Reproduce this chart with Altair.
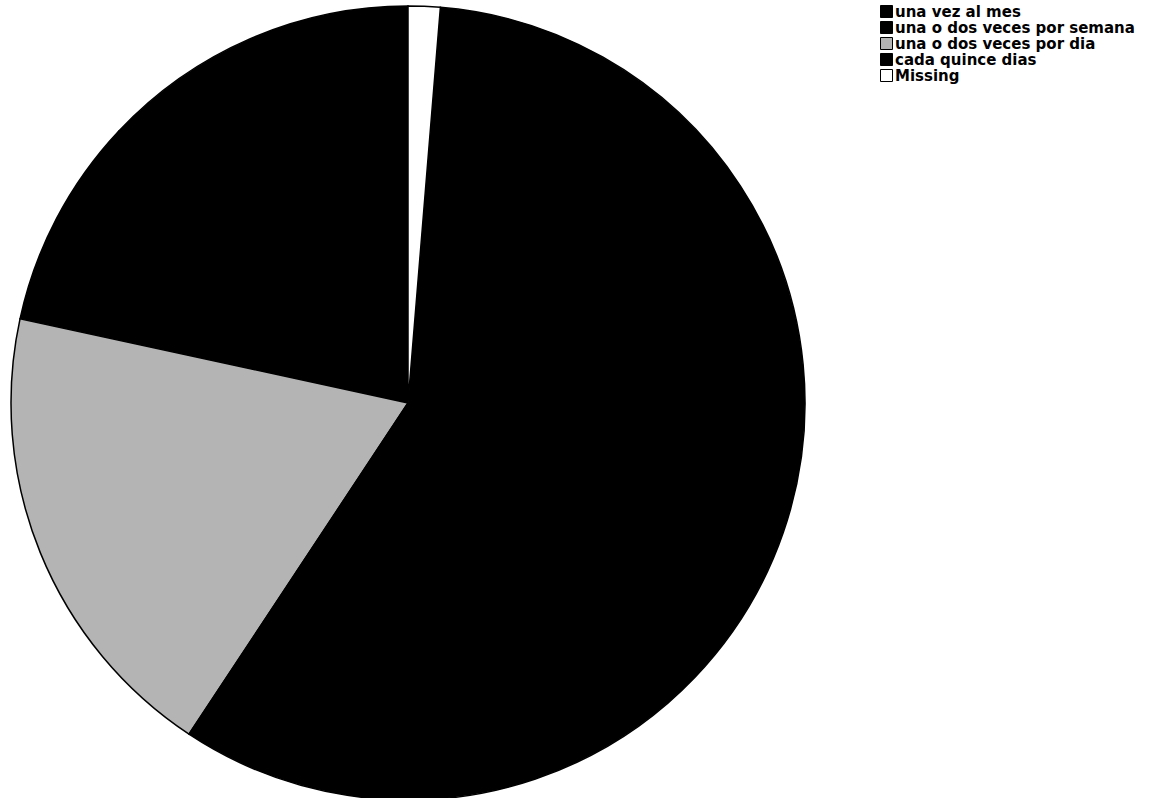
import altair as alt
import pandas as pd

# Frequency categories (legend order) and their share of answers, in percent
categories = [
    "una vez al mes",
    "una o dos veces por semana",
    "una o dos veces por dia",
    "cada quince dias",
    "Missing",
]
percent = [13.0, 8.6, 19.1, 58.0, 1.3]
# Slice order, clockwise from 12 o'clock
slice_order = [5, 4, 3, 2, 1]
fill_colors = ["#000000", "#000000", "#b4b4b4", "#000000", "#ffffff"]

df = pd.DataFrame({"categoria": categories, "porcentaje": percent, "orden": slice_order})

chart = (
    alt.Chart(df)
    .mark_arc(radius=397, stroke="black", strokeWidth=1.5)
    .encode(
        theta=alt.Theta("porcentaje:Q", stack=True),
        order=alt.Order("orden:Q"),
        color=alt.Color(
            "categoria:N",
            scale=alt.Scale(domain=categories, range=fill_colors),
            legend=alt.Legend(
                title=None,
                orient="none",
                legendX=879,
                legendY=4,
                symbolType="square",
                symbolSize=144,
                symbolStrokeColor="black",
                symbolStrokeWidth=1,
                labelFont="DejaVu Sans",
                labelFontWeight="bold",
                labelFontSize=15,
                labelColor="black",
                labelOffset=1,
                labelLimit=400,
                rowPadding=-1.4,
                padding=0,
            ),
        ),
        x=alt.value(408),
        y=alt.value(403),
    )
    .properties(width=1153, height=798, padding=0, autosize="none")
    .configure_view(stroke=None)
)

chart.save("out.html", embed_options={"renderer": "svg", "actions": False})
